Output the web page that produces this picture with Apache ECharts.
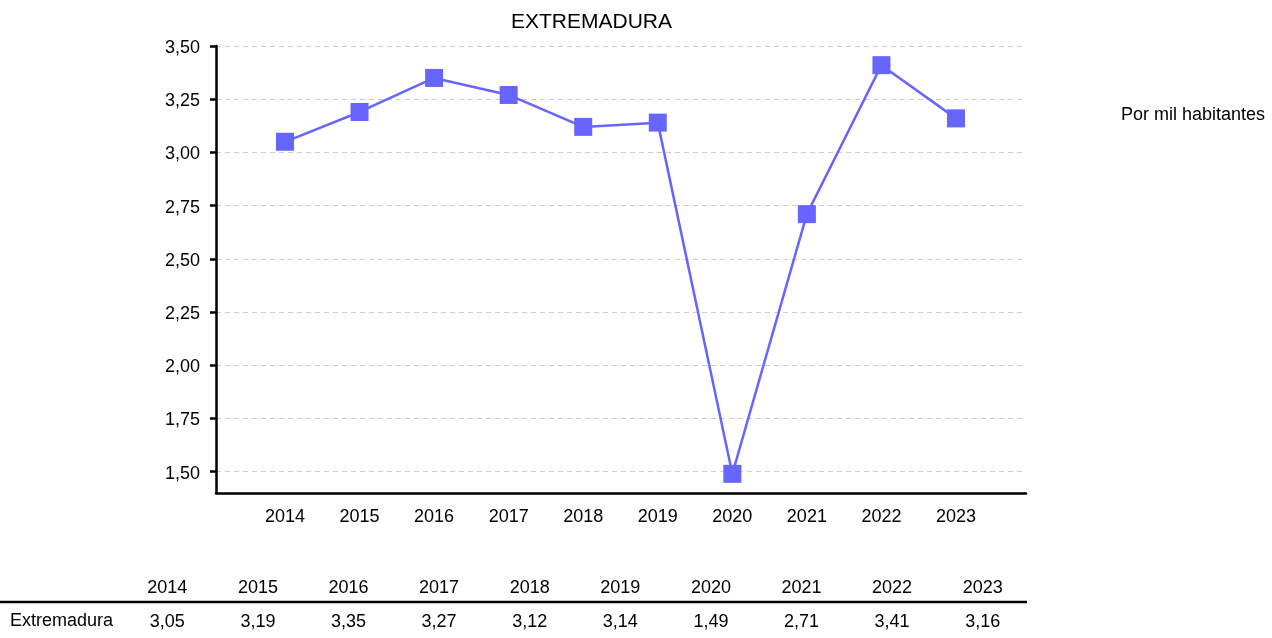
<!DOCTYPE html>
<html>
<head>
<meta charset="utf-8">
<script src="https://cdn.jsdelivr.net/npm/echarts@6/dist/echarts.min.js"></script>
<style>
html,body{margin:0;padding:0;background:#fff;}
#chart{width:1272px;height:638px;}
</style>
</head>
<body>
<div id="chart"></div>
<script>
var years = [2014, 2015, 2016, 2017, 2018, 2019, 2020, 2021, 2022, 2023];
var values = [3.05, 3.19, 3.35, 3.27, 3.12, 3.14, 1.49, 2.71, 3.41, 3.16];
var yTicks = [1.50, 1.75, 2.00, 2.25, 2.50, 2.75, 3.00, 3.25, 3.50];
var title = 'EXTREMADURA';
var unitLabel = 'Por mil habitantes';
var rowLabel = 'Extremadura';

function fmt(v) { return v.toFixed(2).replace('.', ','); }

var FONT = "'Liberation Sans', Arial, sans-serif";
var chart = echarts.init(document.getElementById('chart'));
chart.setOption({
  animation: false,
  backgroundColor: '#fff',
  textStyle: { fontFamily: FONT },
  grid: [
    { left: 216, top: 46, width: 810, height: 447 },
    { left: 122, top: 602, width: 906, height: 38 }
  ],
  xAxis: [
    {
      gridIndex: 0, type: 'value', min: 2013.0745, max: 2023.939,
      axisLine: { show: true, lineStyle: { color: '#000', width: 2.5 } },
      axisTick: { show: false },
      splitLine: { show: false },
      axisLabel: {
        customValues: years, margin: 15,
        color: '#000', fontSize: 18, fontFamily: FONT,
        formatter: function (v) { return String(v); }
      }
    },
    {
      gridIndex: 1, type: 'category', data: years.map(String), position: 'top',
      axisLine: { show: false }, axisTick: { show: false },
      axisLabel: { color: '#000', fontSize: 18, fontFamily: FONT, margin: 5 }
    }
  ],
  yAxis: [
    {
      gridIndex: 0, type: 'value', min: 1.4, max: 3.5,
      axisLine: { show: true, lineStyle: { color: '#000', width: 2.5 } },
      axisTick: { show: true, customValues: yTicks, length: 6, lineStyle: { color: '#000', width: 2.5 } },
      splitLine: { show: true, lineStyle: { color: '#cccccc', width: 1, type: [5, 4] } },
      axisLabel: {
        customValues: yTicks, margin: 16,
        color: '#000', fontSize: 18, fontFamily: FONT,
        formatter: function (v) { return '{a|' + fmt(v) + '}'; },
        rich: { a: { fontSize: 18, fontFamily: FONT, color: '#000', padding: [4, 0, 0, 0] } }
      }
    },
    {
      gridIndex: 1, type: 'value', min: -1, max: 1, show: false
    }
  ],
  graphic: [
    { type: 'text', left: 592 - 81, top: 12, style: { text: title, font: "21px " + FONT, fill: '#000' } },
    { type: 'text', left: 1121, top: 106, style: { text: unitLabel, font: "18px " + FONT, fill: '#000' } },
    { type: 'text', left: 10, top: 612, style: { text: rowLabel, font: "18px " + FONT, fill: '#000' } },
    { type: 'line', shape: { x1: 0, y1: 602, x2: 1027, y2: 602 }, style: { stroke: '#000', lineWidth: 2.5 } }
  ],
  series: [
    {
      type: 'line', xAxisIndex: 0, yAxisIndex: 0,
      data: years.map(function (y, i) { return [y, values[i]]; }),
      symbol: 'rect', symbolSize: 18,
      lineStyle: { color: '#6666ff', width: 2.5 },
      itemStyle: { color: '#6666ff' }
    },
    {
      type: 'scatter', xAxisIndex: 1, yAxisIndex: 1,
      data: years.map(function (y, i) { return [i, 0, values[i]]; }),
      symbolSize: 0,
      itemStyle: { opacity: 1 },
      label: {
        show: true, position: 'inside', color: '#000', fontSize: 18, fontFamily: FONT,
        offset: [0, 2],
        formatter: function (p) { return fmt(p.data[2]); }
      }
    }
  ]
});
</script>
</body>
</html>
